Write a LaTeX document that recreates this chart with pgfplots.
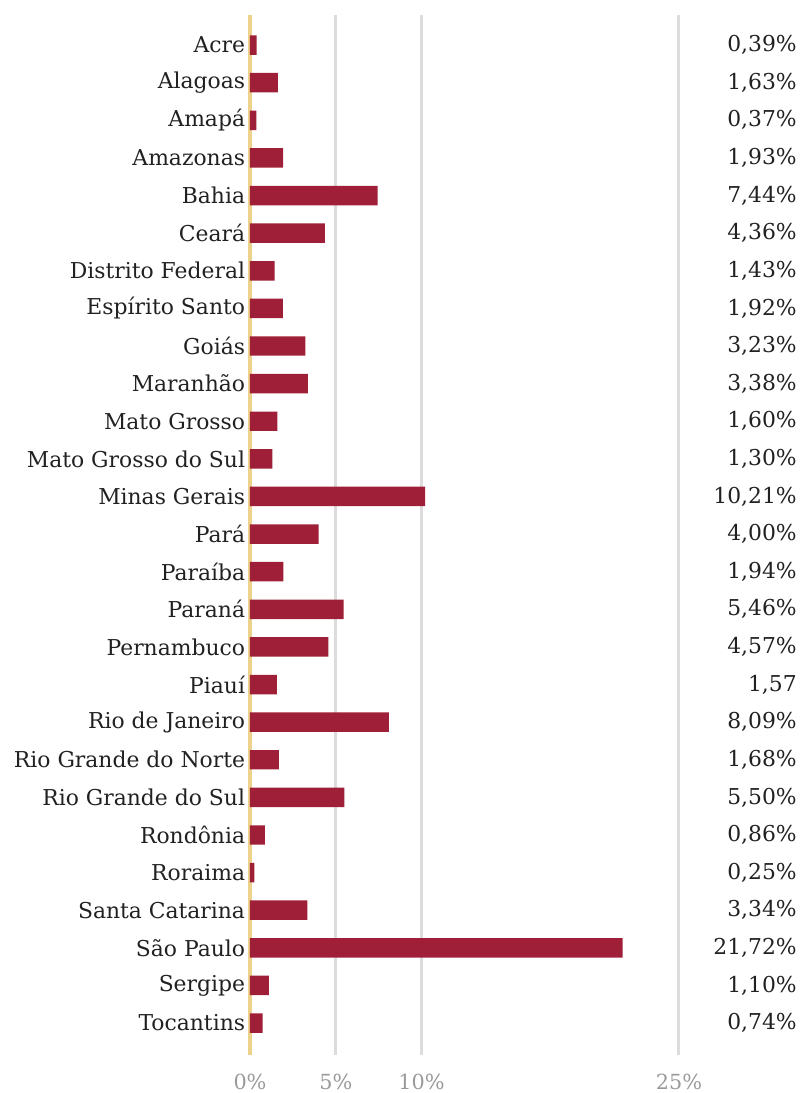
\documentclass[border=0pt]{standalone}
\usepackage{fontspec}
\setmainfont{DejaVu Serif}
\usepackage{pgfplots}
\pgfplotsset{compat=1.18}
\definecolor{barred}{HTML}{9E1F37}
\definecolor{axisyel}{HTML}{EDD28C}
\definecolor{gridgray}{HTML}{DCDCDC}
\definecolor{ticktxt}{HTML}{9A9A9A}
\begin{document}
\begin{tikzpicture}
\useasboundingbox (0,0) rectangle (600pt,-819.75pt);
\begin{axis}[
  at={(187.5pt,-11.25pt)}, anchor=north west,
  scale only axis, width=410.25pt, height=780pt,
  xmin=0, xmax=31.88, ymin=-0.8, ymax=26.85,
  y dir=reverse,
  clip=false,
  axis line style={draw=none},
  tick style={draw=none},
  ytick={0,...,26},
  yticklabels={Acre,Alagoas,Amapá,Amazonas,Bahia,Ceará,Distrito Federal,Espírito Santo,Goiás,Maranhão,Mato Grosso,Mato Grosso do Sul,Minas Gerais,Pará,Paraíba,Paraná,Pernambuco,Piauí,Rio de Janeiro,Rio Grande do Norte,Rio Grande do Sul,Rondônia,Roraima,Santa Catarina,São Paulo,Sergipe,Tocantins},
  yticklabel style={font=\fontsize{16.4pt}{18pt}\selectfont, text=black!87, inner sep=0pt, xshift=-3.5pt},
  xtick={5,10,25},
  xticklabels={5\%,10\%,25\%},
  extra x ticks={0},
  extra x tick labels={0\%},
  xmajorgrids,
  grid style={color=gridgray, line width=2.2pt},
  extra x tick style={grid style={color=axisyel, line width=2.4pt}},
  xticklabel style={font=\fontsize{15.6pt}{17pt}\selectfont, text=ticktxt, inner sep=0pt, yshift=-14pt},
  bar shift=0pt,
]
\addplot[xbar, bar width=14.6pt, fill=barred, draw=none] coordinates {
(0.39,0) (1.63,1) (0.37,2) (1.93,3) (7.44,4) (4.36,5) (1.43,6) (1.92,7) (3.23,8) (3.38,9)
(1.60,10) (1.30,11) (10.21,12) (4.00,13) (1.94,14) (5.46,15) (4.57,16) (1.57,17) (8.09,18)
(1.68,19) (5.50,20) (0.86,21) (0.25,22) (3.34,23) (21.72,24) (1.10,25) (0.74,26)};
\addplot[draw=none, mark=none, nodes near coords, point meta=explicit symbolic,
  nodes near coords style={anchor=east, inner sep=0pt, font=\fontsize{16.4pt}{18pt}\selectfont, text=black!87}]
  table[meta=lab] {
x y lab
31.88 0 0,39\%
31.88 1 1,63\%
31.88 2 0,37\%
31.88 3 1,93\%
31.88 4 7,44\%
31.88 5 4,36\%
31.88 6 1,43\%
31.88 7 1,92\%
31.88 8 3,23\%
31.88 9 3,38\%
31.88 10 1,60\%
31.88 11 1,30\%
31.88 12 10,21\%
31.88 13 4,00\%
31.88 14 1,94\%
31.88 15 5,46\%
31.88 16 4,57\%
31.88 17 1,57
31.88 18 8,09\%
31.88 19 1,68\%
31.88 20 5,50\%
31.88 21 0,86\%
31.88 22 0,25\%
31.88 23 3,34\%
31.88 24 21,72\%
31.88 25 1,10\%
31.88 26 0,74\%
};
\end{axis}
\end{tikzpicture}
\end{document}
